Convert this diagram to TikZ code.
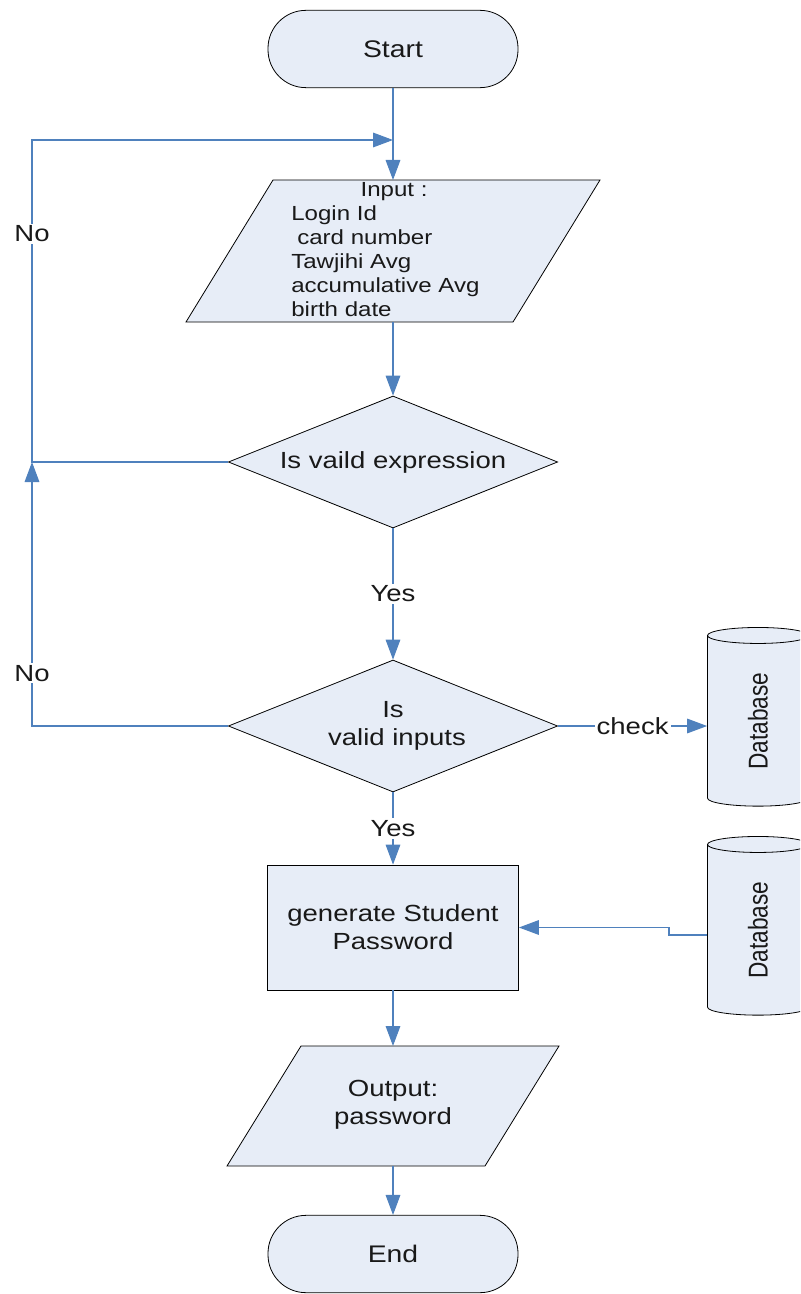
\documentclass[tikz,border=0pt]{standalone}
\usepackage{fontspec}
\setmainfont{Liberation Sans}[FakeStretch=1.18]
\newfontfamily\dbfont{Liberation Sans}
\usepackage{graphicx}
\usetikzlibrary{arrows.meta,shapes.geometric,fit}
\definecolor{shapefill}{RGB}{231,237,247}
\definecolor{flowline}{RGB}{79,129,189}
\definecolor{inktext}{RGB}{25,25,25}

\begin{document}
\begin{tikzpicture}[x=0.75pt,y=-0.75pt,
  every node/.style={text=inktext},
  outline/.style={draw=black, fill=shapefill, line width=0.6pt},
  terminal/.style={outline, rectangle, rounded corners=28.5pt, minimum width=187.5pt,
    minimum height=58pt, inner sep=0pt, font=\fontsize{18}{21}\selectfont},
  decision/.style={outline, diamond, aspect=2.5, inner sep=0pt, minimum width=247pt,
    minimum height=99pt, align=center, font=\fontsize{17.5}{21.5}\selectfont},
  process/.style={outline, rectangle, inner sep=0pt, minimum width=188.25pt,
    minimum height=93.75pt, align=center, font=\fontsize{17.5}{21}\selectfont},
  store/.style={outline, cylinder, rotate=90, inner sep=0pt, minimum width=75.75pt,
    minimum height=134pt, aspect=0.8},
  frame/.style={inner sep=0pt, outer sep=0pt},
  flow/.style={draw=flowline, line width=0.8pt},
  arrow/.style={flow, -{Triangle[length=15pt,width=11pt]}},
  tag/.style={fill=white, inner sep=1.5pt, font=\fontsize{17.5}{20}\selectfont},
]
\useasboundingbox (0,0) rectangle (800,1294);
\clip (0,0) rectangle (800,1294);

% terminals
\node[terminal] (start) at (393,49) {Start};
\node[terminal] (end) at (393,1254) {End};

% input parallelogram
\draw[outline] (273,180) -- (600,180) -- (513,322) -- (186,322) -- cycle;
\node[frame, fit={(273,180) (513,322)}] (input) {};
\node[anchor=north west, align=left, inner sep=0pt,
      font=\fontsize{15.3}{18}\selectfont] (inputtext) at (291,182)
  {\hspace{52pt}Input :\\Login Id\\\hspace{4.5pt}card number\\Tawjihi Avg\\accumulative Avg\\birth date};

% decisions
\node[decision] (d1) at (393,462) {Is vaild expression};
\node[decision] (d2) at (393,726) {Is\\\hspace{6pt}valid inputs};

% process
\node[process] (proc) at (393,927.5) {generate Student\\Password};

% output parallelogram
\draw[outline] (301,1046) -- (559,1046) -- (485,1166) -- (227,1166) -- cycle;
\node[frame, fit={(301,1046) (485,1166)}] (output) {};
\node[align=center, inner sep=0pt, font=\fontsize{17.5}{21}\selectfont] (outputtext)
  at (393,1105) {Output:\\password};

% databases
\node[store] (db1) at (758,721) {\dbfont\fontsize{17}{18}\selectfont\scalebox{1}[1.2]{Database}};
\node[store] (db2) at (758,930) {\dbfont\fontsize{17}{18}\selectfont\scalebox{1}[1.2]{Database}};

% helper points of the loops
\coordinate (merge) at (393,140);
\coordinate (cornerA) at (32,462);
\coordinate (cornerB) at (32,140);
\coordinate (cornerC) at (32,726);
\coordinate (jog) at (669,935);

% main flow
\draw[arrow] (start) -- (input);
\draw[arrow] (input) -- (d1);
\draw[arrow] (d1) -- node[tag] {Yes} (d2);
\draw[arrow] (d2) -- node[tag] {Yes} (proc);
\draw[arrow] (proc) -- (output);
\draw[arrow] (output) -- (end);

% loops back to the input
\draw[arrow] (d1.west) -- (cornerA) -- node[tag, pos=0.708] {No} (cornerB) -- (merge);
\draw[arrow] (d2.west) -- (cornerC) -- node[tag, pos=0.2] {No} (cornerA);

% database links
\draw[arrow] (d2.east) -- node[tag] {check} (d2.east -| db1.north);
\draw[arrow] (db2.north |- jog) -- (jog) -- (jog |- proc.east) -- (proc.east);
\end{tikzpicture}
\end{document}
